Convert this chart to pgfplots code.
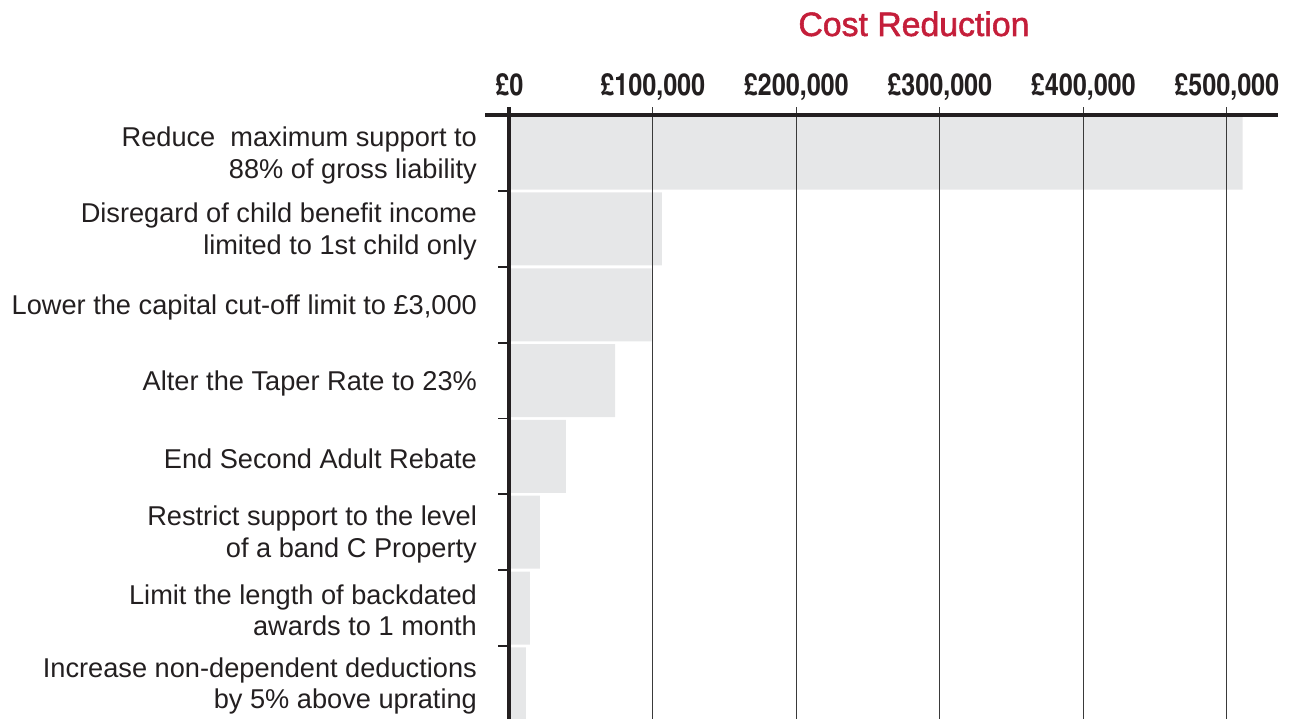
\documentclass[border=0pt]{standalone}
\usepackage{fontspec}
\setmainfont{Liberation Sans}
\newfontfamily\cond{texgyreheroscn-bold.otf}
\newfontfamily\titlefont{Liberation Sans}[FakeBold=1.6]
\usepackage{pgfplots}
\pgfplotsset{compat=1.18}
\definecolor{barc}{HTML}{E6E7E8}
\definecolor{txt}{HTML}{231F20}
\definecolor{titlec}{HTML}{C41E3A}
\definecolor{gridc}{HTML}{3A3A3A}
\begin{document}
\begin{tikzpicture}
\begin{axis}[
  scale only axis, width=384.35pt, height=301.85pt,
  xbar, bar width=36.5pt,
  xmin=0, xmax=535680, ymin=-0.5, ymax=7.464, y dir=reverse,
  enlargelimits=false, clip=false,
  axis line style={draw=none},
  tick style={draw=none}, major tick length=0pt,
  scaled x ticks=false,
  xtick={0,100000,200000,300000,400000,500000},
  xticklabels={{£0},{£100,000},{£200,000},{£300,000},{£400,000},{£500,000}},
  xticklabel pos=upper,
  xticklabel style={font=\cond\fontsize{15.3}{17}\selectfont, anchor=base, yshift=10pt, inner sep=0pt, text=txt},
  ytick={0,1,2,3,4,5,6,7},
  yticklabels={
    {Reduce\ \ maximum support to\\88\% of gross liability},
    {Disregard of child benefit income\\limited to 1st child only},
    {Lower the capital cut-off limit to £3,000},
    {Alter the Taper Rate to 23\%},
    {End Second Adult Rebate},
    {Restrict support to the level\\of a band C Property},
    {Limit the length of backdated\\awards to 1 month},
    {Increase non-dependent deductions\\by 5\% above uprating}},
  yticklabel pos=left,
  yticklabel style={font=\fontsize{13.6}{15.7}\selectfont, align=right, anchor=east, inner sep=0pt, xshift=-16pt, yshift=-1.2pt, text=txt},
]
\addplot[fill=barc, draw=none] coordinates {(511000,0) (106400,1) (99200,2) (73700,3) (39500,4) (21400,5) (14400,6) (11600,7)};
\pgfplotsinvokeforeach{100000,200000,300000,400000,500000}{
  \draw[gridc, line width=0.65pt] ([yshift=4pt]axis cs:#1,-0.5) -- (axis cs:#1,7.464);
}
\pgfplotsinvokeforeach{0.5,1.5,2.5,3.5,4.5,5.5,6.5}{
  \draw[txt, line width=0.9pt] ([xshift=-5.5pt]axis cs:0,#1) -- (axis cs:0,#1);
}
\draw[txt, line width=2pt] ([xshift=-12pt]axis cs:0,-0.5) -- (axis cs:535680,-0.5);
\draw[txt, line width=2pt] ([yshift=4pt]axis cs:0,-0.5) -- (axis cs:0,7.464);
\end{axis}
\node[anchor=base, font=\titlefont\fontsize{16.9}{19}\selectfont, text=titlec, inner sep=0pt] at ([xshift=202.35pt, yshift=39.65pt]current axis.north west) {Cost Reduction};
\pgfresetboundingbox
\path[use as bounding box] ([xshift=-254.65pt, yshift=57.65pt]current axis.north west) rectangle ([xshift=5.5pt]current axis.south east);
\end{tikzpicture}
\end{document}
